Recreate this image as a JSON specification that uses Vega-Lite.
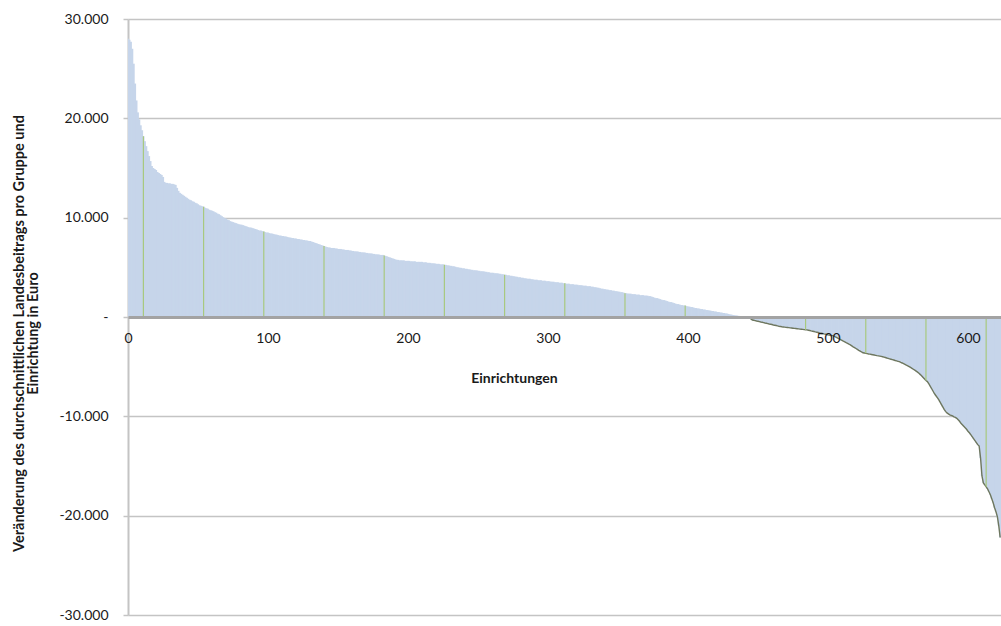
{
"$schema": "https://vega.github.io/schema/vega-lite/v6.json",
"width": 873, "height": 596,
"autosize": {"type": "none"},
"padding": {"left": 128, "top": 19, "right": 0, "bottom": 11},
"background": "white",
"config": {"view": {"stroke": null}, "font": "Lato"},
"data": {"values": [
{"i":0,"v":28000},{"i":1,"v":27900},{"i":2,"v":27700},{"i":3,"v":27000},{"i":4,"v":25500},{"i":5,"v":23500},{"i":6,"v":21800},{"i":7,"v":20600},{"i":8,"v":19900},{"i":9,"v":19300},
{"i":10,"v":18800},{"i":11,"v":18200},{"i":12,"v":17700},{"i":13,"v":17200},{"i":14,"v":16700},{"i":15,"v":16200},{"i":16,"v":15700},{"i":17,"v":15200},{"i":18,"v":15000},{"i":19,"v":14900},
{"i":20,"v":14800},{"i":21,"v":14600},{"i":22,"v":14500},{"i":23,"v":14400},{"i":24,"v":14300},{"i":25,"v":14100},{"i":26,"v":13600},{"i":27,"v":13500},{"i":28,"v":13500},{"i":29,"v":13450},
{"i":30,"v":13450},{"i":31,"v":13400},{"i":32,"v":13400},{"i":33,"v":13350},{"i":34,"v":13300},{"i":35,"v":13000},{"i":36,"v":12700},{"i":37,"v":12500},{"i":38,"v":12400},{"i":39,"v":12300},
{"i":40,"v":12200},{"i":41,"v":12100},{"i":42,"v":12000},{"i":43,"v":11900},{"i":44,"v":11800},{"i":45,"v":11750},{"i":46,"v":11650},{"i":47,"v":11600},{"i":48,"v":11500},{"i":49,"v":11450},
{"i":50,"v":11350},{"i":51,"v":11250},{"i":52,"v":11200},{"i":53,"v":11150},{"i":54,"v":11100},{"i":55,"v":11000},{"i":56,"v":10950},{"i":57,"v":10900},{"i":58,"v":10800},{"i":59,"v":10750},
{"i":60,"v":10700},{"i":61,"v":10650},{"i":62,"v":10550},{"i":63,"v":10500},{"i":64,"v":10400},{"i":65,"v":10350},{"i":66,"v":10250},{"i":67,"v":10150},{"i":68,"v":10050},{"i":69,"v":9950},
{"i":70,"v":9900},{"i":71,"v":9800},{"i":72,"v":9750},{"i":73,"v":9650},{"i":74,"v":9600},{"i":75,"v":9550},{"i":76,"v":9500},{"i":77,"v":9450},{"i":78,"v":9400},{"i":79,"v":9350},
{"i":80,"v":9300},{"i":81,"v":9300},{"i":82,"v":9250},{"i":83,"v":9200},{"i":84,"v":9150},{"i":85,"v":9100},{"i":86,"v":9050},{"i":87,"v":9000},{"i":88,"v":9000},{"i":89,"v":8950},
{"i":90,"v":8900},{"i":91,"v":8850},{"i":92,"v":8800},{"i":93,"v":8750},{"i":94,"v":8700},{"i":95,"v":8700},{"i":96,"v":8650},{"i":97,"v":8600},{"i":98,"v":8550},{"i":99,"v":8500},
{"i":100,"v":8500},{"i":101,"v":8450},{"i":102,"v":8400},{"i":103,"v":8400},{"i":104,"v":8350},{"i":105,"v":8300},{"i":106,"v":8300},{"i":107,"v":8250},{"i":108,"v":8200},{"i":109,"v":8200},
{"i":110,"v":8150},{"i":111,"v":8150},{"i":112,"v":8100},{"i":113,"v":8100},{"i":114,"v":8050},{"i":115,"v":8000},{"i":116,"v":8000},{"i":117,"v":7950},{"i":118,"v":7950},{"i":119,"v":7900},
{"i":120,"v":7900},{"i":121,"v":7850},{"i":122,"v":7850},{"i":123,"v":7800},{"i":124,"v":7800},{"i":125,"v":7750},{"i":126,"v":7750},{"i":127,"v":7700},{"i":128,"v":7700},{"i":129,"v":7650},
{"i":130,"v":7650},{"i":131,"v":7600},{"i":132,"v":7550},{"i":133,"v":7500},{"i":134,"v":7450},{"i":135,"v":7400},{"i":136,"v":7350},{"i":137,"v":7300},{"i":138,"v":7250},{"i":139,"v":7200},
{"i":140,"v":7150},{"i":141,"v":7100},{"i":142,"v":7050},{"i":143,"v":7000},{"i":144,"v":7000},{"i":145,"v":6950},{"i":146,"v":6950},{"i":147,"v":6950},{"i":148,"v":6900},{"i":149,"v":6900},
{"i":150,"v":6850},{"i":151,"v":6850},{"i":152,"v":6850},{"i":153,"v":6800},{"i":154,"v":6800},{"i":155,"v":6750},{"i":156,"v":6750},{"i":157,"v":6750},{"i":158,"v":6700},{"i":159,"v":6700},
{"i":160,"v":6650},{"i":161,"v":6650},{"i":162,"v":6600},{"i":163,"v":6600},{"i":164,"v":6600},{"i":165,"v":6550},{"i":166,"v":6550},{"i":167,"v":6500},{"i":168,"v":6500},{"i":169,"v":6500},
{"i":170,"v":6450},{"i":171,"v":6450},{"i":172,"v":6400},{"i":173,"v":6400},{"i":174,"v":6400},{"i":175,"v":6350},{"i":176,"v":6350},{"i":177,"v":6300},{"i":178,"v":6300},{"i":179,"v":6300},
{"i":180,"v":6250},{"i":181,"v":6250},{"i":182,"v":6250},{"i":183,"v":6200},{"i":184,"v":6150},{"i":185,"v":6100},{"i":186,"v":6050},{"i":187,"v":6000},{"i":188,"v":5950},{"i":189,"v":5900},
{"i":190,"v":5850},{"i":191,"v":5800},{"i":192,"v":5750},{"i":193,"v":5750},{"i":194,"v":5700},{"i":195,"v":5700},{"i":196,"v":5700},{"i":197,"v":5700},{"i":198,"v":5650},{"i":199,"v":5650},
{"i":200,"v":5650},{"i":201,"v":5650},{"i":202,"v":5600},{"i":203,"v":5600},{"i":204,"v":5600},{"i":205,"v":5600},{"i":206,"v":5550},{"i":207,"v":5550},{"i":208,"v":5550},{"i":209,"v":5550},
{"i":210,"v":5550},{"i":211,"v":5500},{"i":212,"v":5500},{"i":213,"v":5500},{"i":214,"v":5450},{"i":215,"v":5450},{"i":216,"v":5450},{"i":217,"v":5400},{"i":218,"v":5400},{"i":219,"v":5400},
{"i":220,"v":5350},{"i":221,"v":5350},{"i":222,"v":5350},{"i":223,"v":5300},{"i":224,"v":5300},{"i":225,"v":5300},{"i":226,"v":5250},{"i":227,"v":5250},{"i":228,"v":5200},{"i":229,"v":5200},
{"i":230,"v":5150},{"i":231,"v":5150},{"i":232,"v":5100},{"i":233,"v":5100},{"i":234,"v":5050},{"i":235,"v":5000},{"i":236,"v":5000},{"i":237,"v":4950},{"i":238,"v":4950},{"i":239,"v":4900},
{"i":240,"v":4900},{"i":241,"v":4850},{"i":242,"v":4850},{"i":243,"v":4800},{"i":244,"v":4800},{"i":245,"v":4750},{"i":246,"v":4750},{"i":247,"v":4700},{"i":248,"v":4700},{"i":249,"v":4700},
{"i":250,"v":4650},{"i":251,"v":4650},{"i":252,"v":4600},{"i":253,"v":4600},{"i":254,"v":4600},{"i":255,"v":4550},{"i":256,"v":4550},{"i":257,"v":4500},{"i":258,"v":4500},{"i":259,"v":4450},
{"i":260,"v":4450},{"i":261,"v":4450},{"i":262,"v":4400},{"i":263,"v":4400},{"i":264,"v":4400},{"i":265,"v":4350},{"i":266,"v":4350},{"i":267,"v":4300},{"i":268,"v":4300},{"i":269,"v":4250},
{"i":270,"v":4250},{"i":271,"v":4200},{"i":272,"v":4200},{"i":273,"v":4150},{"i":274,"v":4150},{"i":275,"v":4100},{"i":276,"v":4100},{"i":277,"v":4050},{"i":278,"v":4050},{"i":279,"v":4000},
{"i":280,"v":4000},{"i":281,"v":3950},{"i":282,"v":3950},{"i":283,"v":3900},{"i":284,"v":3900},{"i":285,"v":3850},{"i":286,"v":3850},{"i":287,"v":3850},{"i":288,"v":3800},{"i":289,"v":3800},
{"i":290,"v":3750},{"i":291,"v":3750},{"i":292,"v":3750},{"i":293,"v":3700},{"i":294,"v":3700},{"i":295,"v":3700},{"i":296,"v":3650},{"i":297,"v":3650},{"i":298,"v":3650},{"i":299,"v":3600},
{"i":300,"v":3600},{"i":301,"v":3600},{"i":302,"v":3550},{"i":303,"v":3550},{"i":304,"v":3550},{"i":305,"v":3500},{"i":306,"v":3500},{"i":307,"v":3500},{"i":308,"v":3450},{"i":309,"v":3450},
{"i":310,"v":3450},{"i":311,"v":3400},{"i":312,"v":3400},{"i":313,"v":3350},{"i":314,"v":3350},{"i":315,"v":3350},{"i":316,"v":3300},{"i":317,"v":3300},{"i":318,"v":3300},{"i":319,"v":3250},
{"i":320,"v":3250},{"i":321,"v":3250},{"i":322,"v":3200},{"i":323,"v":3200},{"i":324,"v":3200},{"i":325,"v":3150},{"i":326,"v":3150},{"i":327,"v":3150},{"i":328,"v":3100},{"i":329,"v":3100},
{"i":330,"v":3100},{"i":331,"v":3050},{"i":332,"v":3050},{"i":333,"v":3000},{"i":334,"v":3000},{"i":335,"v":2950},{"i":336,"v":2950},{"i":337,"v":2900},{"i":338,"v":2850},{"i":339,"v":2850},
{"i":340,"v":2800},{"i":341,"v":2800},{"i":342,"v":2750},{"i":343,"v":2750},{"i":344,"v":2700},{"i":345,"v":2700},{"i":346,"v":2650},{"i":347,"v":2650},{"i":348,"v":2600},{"i":349,"v":2600},
{"i":350,"v":2550},{"i":351,"v":2550},{"i":352,"v":2500},{"i":353,"v":2500},{"i":354,"v":2450},{"i":355,"v":2400},{"i":356,"v":2400},{"i":357,"v":2350},{"i":358,"v":2350},{"i":359,"v":2350},
{"i":360,"v":2300},{"i":361,"v":2300},{"i":362,"v":2300},{"i":363,"v":2250},{"i":364,"v":2250},{"i":365,"v":2250},{"i":366,"v":2200},{"i":367,"v":2200},{"i":368,"v":2200},{"i":369,"v":2150},
{"i":370,"v":2150},{"i":371,"v":2150},{"i":372,"v":2100},{"i":373,"v":2100},{"i":374,"v":2050},{"i":375,"v":2000},{"i":376,"v":1950},{"i":377,"v":1900},{"i":378,"v":1900},{"i":379,"v":1850},
{"i":380,"v":1800},{"i":381,"v":1750},{"i":382,"v":1700},{"i":383,"v":1700},{"i":384,"v":1650},{"i":385,"v":1600},{"i":386,"v":1550},{"i":387,"v":1500},{"i":388,"v":1500},{"i":389,"v":1450},
{"i":390,"v":1400},{"i":391,"v":1350},{"i":392,"v":1300},{"i":393,"v":1300},{"i":394,"v":1250},{"i":395,"v":1200},{"i":396,"v":1200},{"i":397,"v":1150},{"i":398,"v":1150},{"i":399,"v":1100},
{"i":400,"v":1050},{"i":401,"v":1050},{"i":402,"v":1000},{"i":403,"v":1000},{"i":404,"v":950},{"i":405,"v":900},{"i":406,"v":900},{"i":407,"v":850},{"i":408,"v":850},{"i":409,"v":800},
{"i":410,"v":800},{"i":411,"v":750},{"i":412,"v":750},{"i":413,"v":700},{"i":414,"v":700},{"i":415,"v":650},{"i":416,"v":650},{"i":417,"v":600},{"i":418,"v":600},{"i":419,"v":550},
{"i":420,"v":550},{"i":421,"v":500},{"i":422,"v":500},{"i":423,"v":450},{"i":424,"v":450},{"i":425,"v":400},{"i":426,"v":400},{"i":427,"v":350},{"i":428,"v":350},{"i":429,"v":300},
{"i":430,"v":250},{"i":431,"v":250},{"i":432,"v":200},{"i":433,"v":180},{"i":434,"v":160},{"i":435,"v":140},{"i":436,"v":120},{"i":437,"v":100},{"i":438,"v":80},{"i":439,"v":60},
{"i":440,"v":40},{"i":441,"v":20},{"i":442,"v":0},{"i":443,"v":-50},{"i":444,"v":-120},{"i":445,"v":-200},{"i":446,"v":-300},{"i":447,"v":-330},{"i":448,"v":-360},{"i":449,"v":-400},
{"i":450,"v":-430},{"i":451,"v":-460},{"i":452,"v":-500},{"i":453,"v":-530},{"i":454,"v":-560},{"i":455,"v":-600},{"i":456,"v":-630},{"i":457,"v":-660},{"i":458,"v":-700},{"i":459,"v":-730},
{"i":460,"v":-760},{"i":461,"v":-800},{"i":462,"v":-830},{"i":463,"v":-860},{"i":464,"v":-900},{"i":465,"v":-930},{"i":466,"v":-950},{"i":467,"v":-980},{"i":468,"v":-1000},{"i":469,"v":-1020},
{"i":470,"v":-1040},{"i":471,"v":-1050},{"i":472,"v":-1070},{"i":473,"v":-1090},{"i":474,"v":-1110},{"i":475,"v":-1130},{"i":476,"v":-1150},{"i":477,"v":-1160},{"i":478,"v":-1180},{"i":479,"v":-1200},
{"i":480,"v":-1220},{"i":481,"v":-1230},{"i":482,"v":-1250},{"i":483,"v":-1270},{"i":484,"v":-1290},{"i":485,"v":-1300},{"i":486,"v":-1330},{"i":487,"v":-1360},{"i":488,"v":-1400},{"i":489,"v":-1430},
{"i":490,"v":-1460},{"i":491,"v":-1500},{"i":492,"v":-1530},{"i":493,"v":-1560},{"i":494,"v":-1600},{"i":495,"v":-1630},{"i":496,"v":-1660},{"i":497,"v":-1700},{"i":498,"v":-1730},{"i":499,"v":-1760},
{"i":500,"v":-1800},{"i":501,"v":-1830},{"i":502,"v":-1860},{"i":503,"v":-1880},{"i":504,"v":-1900},{"i":505,"v":-1980},{"i":506,"v":-2050},{"i":507,"v":-2130},{"i":508,"v":-2200},{"i":509,"v":-2280},
{"i":510,"v":-2350},{"i":511,"v":-2430},{"i":512,"v":-2500},{"i":513,"v":-2580},{"i":514,"v":-2650},{"i":515,"v":-2730},{"i":516,"v":-2800},{"i":517,"v":-2900},{"i":518,"v":-3000},{"i":519,"v":-3080},
{"i":520,"v":-3170},{"i":521,"v":-3260},{"i":522,"v":-3350},{"i":523,"v":-3430},{"i":524,"v":-3520},{"i":525,"v":-3600},{"i":526,"v":-3630},{"i":527,"v":-3660},{"i":528,"v":-3690},{"i":529,"v":-3720},
{"i":530,"v":-3740},{"i":531,"v":-3770},{"i":532,"v":-3800},{"i":533,"v":-3830},{"i":534,"v":-3860},{"i":535,"v":-3890},{"i":536,"v":-3910},{"i":537,"v":-3940},{"i":538,"v":-3970},{"i":539,"v":-4000},
{"i":540,"v":-4040},{"i":541,"v":-4080},{"i":542,"v":-4130},{"i":543,"v":-4170},{"i":544,"v":-4210},{"i":545,"v":-4250},{"i":546,"v":-4290},{"i":547,"v":-4330},{"i":548,"v":-4380},{"i":549,"v":-4420},
{"i":550,"v":-4460},{"i":551,"v":-4500},{"i":552,"v":-4570},{"i":553,"v":-4630},{"i":554,"v":-4700},{"i":555,"v":-4770},{"i":556,"v":-4850},{"i":557,"v":-4920},{"i":558,"v":-5000},{"i":559,"v":-5080},
{"i":560,"v":-5170},{"i":561,"v":-5260},{"i":562,"v":-5350},{"i":563,"v":-5450},{"i":564,"v":-5550},{"i":565,"v":-5670},{"i":566,"v":-5800},{"i":567,"v":-5950},{"i":568,"v":-6100},{"i":569,"v":-6250},
{"i":570,"v":-6400},{"i":571,"v":-6500},{"i":572,"v":-6700},{"i":573,"v":-6950},{"i":574,"v":-7200},{"i":575,"v":-7450},{"i":576,"v":-7700},{"i":577,"v":-7900},{"i":578,"v":-8100},{"i":579,"v":-8300},
{"i":580,"v":-8550},{"i":581,"v":-8800},{"i":582,"v":-9050},{"i":583,"v":-9300},{"i":584,"v":-9500},{"i":585,"v":-9650},{"i":586,"v":-9750},{"i":587,"v":-9850},{"i":588,"v":-9900},{"i":589,"v":-9950},
{"i":590,"v":-10050},{"i":591,"v":-10100},{"i":592,"v":-10200},{"i":593,"v":-10350},{"i":594,"v":-10500},{"i":595,"v":-10700},{"i":596,"v":-10850},{"i":597,"v":-11000},{"i":598,"v":-11150},{"i":599,"v":-11300},
{"i":600,"v":-11500},{"i":601,"v":-11650},{"i":602,"v":-11850},{"i":603,"v":-12050},{"i":604,"v":-12250},{"i":605,"v":-12450},{"i":606,"v":-12650},{"i":607,"v":-12850},{"i":608,"v":-13000},{"i":609,"v":-14200},
{"i":610,"v":-16000},{"i":611,"v":-16700},{"i":612,"v":-16900},{"i":613,"v":-17100},{"i":614,"v":-17300},{"i":615,"v":-17600},{"i":616,"v":-17900},{"i":617,"v":-18300},{"i":618,"v":-18700},{"i":619,"v":-19200},
{"i":620,"v":-19600},{"i":621,"v":-20100},{"i":622,"v":-21000},{"i":623,"v":-22200}
]},
"encoding": {
  "x": {"field": "i", "type": "quantitative",
    "scale": {"domain": [0, 623.6], "nice": false, "zero": false, "padding": 0},
    "axis": {"values": [0,100,200,300,400,500,600], "format": "d", "offset": -298, "grid": false,
      "domainColor": "#a3a3a3", "domainWidth": 3, "ticks": false,
      "labelFont": "Lato", "labelFontSize": 14, "labelColor": "#1a1a1a", "labelPadding": 14, "labelFlush": false, "labelOverlap": false,
      "title": "Einrichtungen", "titleFont": "Lato", "titleFontSize": 14, "titleFontWeight": "bold", "titleColor": "#1a1a1a",
      "titleX": 386, "titleY": 61, "titleAlign": "center", "titleBaseline": "middle", "zindex": 1}},
  "y": {"field": "v", "type": "quantitative",
    "scale": {"domain": [-30000, 30000], "nice": false},
    "axis": {"values": [-30000,-20000,-10000,0,10000,20000,30000],
      "labelExpr": "datum.value == 0 ? '-  ' : replace(replace(format(datum.value, ','), ',', '.'), '\u2212', '-')",
      "grid": true, "gridColor": "#c4c4c4", "gridWidth": 1.5,
      "domainColor": "#c4c4c4", "domainWidth": 2, "tickColor": "#c4c4c4", "tickSize": 5, "tickWidth": 1.5,
      "labelFont": "Lato", "labelFontSize": 14, "labelColor": "#1a1a1a", "labelPadding": 15,
      "title": ["Veränderung des durchschnittlichen Landesbeitrags pro Gruppe und", "Einrichtung in Euro"],
      "titleFont": "Lato", "titleFontSize": 14.5, "titleFontWeight": "bold", "titleColor": "#1a1a1a",
      "titleX": -109, "titleY": 314, "titleAngle": -90, "titleAlign": "center", "titleBaseline": "middle", "titleLineHeight": 14}}
},
"layer": [
  {"mark": {"type": "bar", "size": 2.2, "color": "#c6d5ea", "clip": true}},
  {"transform": [{"filter": {"field": "i", "gte": 442}}],
   "mark": {"type": "line", "color": "#6e775f", "strokeWidth": 1.4, "clip": true}},
  {"transform": [{"filter": {"field": "i", "oneOf": [11,54,97,140,183,226,269,312,355,398,484,527,570,613]}}],
   "mark": {"type": "rule", "color": "#a8c97f", "strokeWidth": 1.2},
   "encoding": {"y2": {"datum": 0}}}
]
}
